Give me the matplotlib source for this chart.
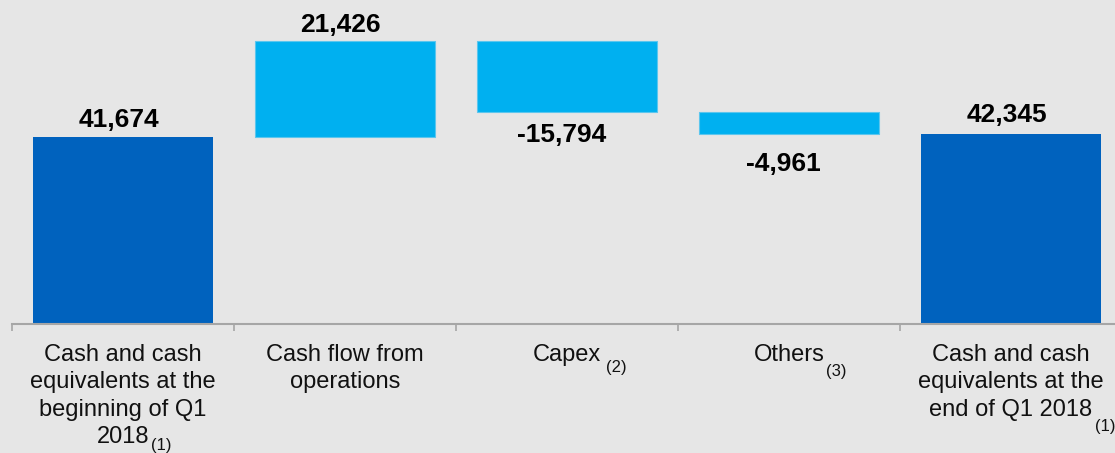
import numpy as np
import matplotlib
matplotlib.use("Agg")
import matplotlib.pyplot as plt

# waterfall data (cash bridge, Q1 2018)
categories = ["Cash and cash\nequivalents at the\nbeginning of Q1\n2018",
              "Cash flow from\noperations",
              "Capex",
              "Others",
              "Cash and cash\nequivalents at the\nend of Q1 2018"]
footnotes = ["(1)", "", "(2)", "(3)", "(1)"]
values = [41674, 21426, -15794, -4961, 42345]
is_total = [True, False, False, False, True]
value_labels = ["41,674", "21,426", "-15,794", "-4,961", "42,345"]

bg = "#e6e6e6"
dark = "#0062be"
light = "#00b0f0"

plt.rcParams["font.family"] = ["Liberation Sans", "DejaVu Sans"]

fig = plt.figure(figsize=(11.15, 4.53), dpi=100, facecolor=bg)
ax = fig.add_axes([12 / 1115, 129 / 453, 1 - 12 / 1115, 324 / 453])
ax.set_facecolor(bg)

# bar bottoms / heights
bottoms, heights = [], []
running = 0
for v, tot in zip(values, is_total):
    if tot:
        bottoms.append(0)
        heights.append(v)
        running = v
    else:
        lo = min(running, running + v)
        bottoms.append(lo)
        heights.append(abs(v))
        running += v

x = np.arange(len(values))
for i in range(len(values)):
    if is_total[i]:
        ax.bar(x[i], heights[i], bottom=bottoms[i], width=0.815, color=dark, linewidth=0)
    else:
        ax.bar(x[i], heights[i], bottom=bottoms[i], width=0.815, color=light,
               edgecolor="#5cc6ee", linewidth=0.8)

# value labels: above for positives, below for negatives (offsets in points)
label_off = [7, 6.5, 8, 13, 8.5]
for i, v in enumerate(values):
    if v >= 0:
        ax.annotate(value_labels[i], xy=(x[i], bottoms[i] + heights[i]),
                    xytext=(-3, label_off[i]), textcoords="offset points",
                    ha="center", va="baseline", fontsize=19, fontweight="bold")
    else:
        ax.annotate(value_labels[i], xy=(x[i], bottoms[i]),
                    xytext=(-4, -label_off[i]), textcoords="offset points",
                    ha="center", va="top", fontsize=19, fontweight="bold")

for s in ["top", "right", "left"]:
    ax.spines[s].set_visible(False)
ax.spines["bottom"].set_color("#a6a6a6")
ax.spines["bottom"].set_linewidth(1.5)
ax.set_yticks([])
ax.set_xticks(np.arange(-0.5, len(values) - 1, 1.0))
ax.set_xticklabels([])
ax.tick_params(axis="x", length=5, width=1.2, color="#a6a6a6", direction="out")
ax.set_xlim(-0.5, -0.5 + 1103 / 222)
ax.set_ylim(0, 72200)

# category labels, one line at a time, with footnote subscripts
trans = ax.get_xaxis_transform()
sub_off = [(1.5, -3.5), (0, 0), (3.5, -6.5), (1, -9.5), (1.5, -9.5)]
for i, lab in enumerate(categories):
    lines = lab.split("\n")
    last = None
    for j, line in enumerate(lines):
        last = ax.annotate(line, xy=(x[i], 0), xycoords=trans,
                           xytext=(0, -26.6 - j * 19.7), textcoords="offset points",
                           ha="center", va="baseline", fontsize=17, color="#111111",
                           annotation_clip=False)
    if footnotes[i]:
        ax.annotate(footnotes[i], xy=(1, 0), xycoords=last,
                    xytext=sub_off[i], textcoords="offset points",
                    ha="left", va="bottom", fontsize=12, color="#111111",
                    annotation_clip=False)

fig.savefig("out.png", dpi=100, facecolor=bg)
